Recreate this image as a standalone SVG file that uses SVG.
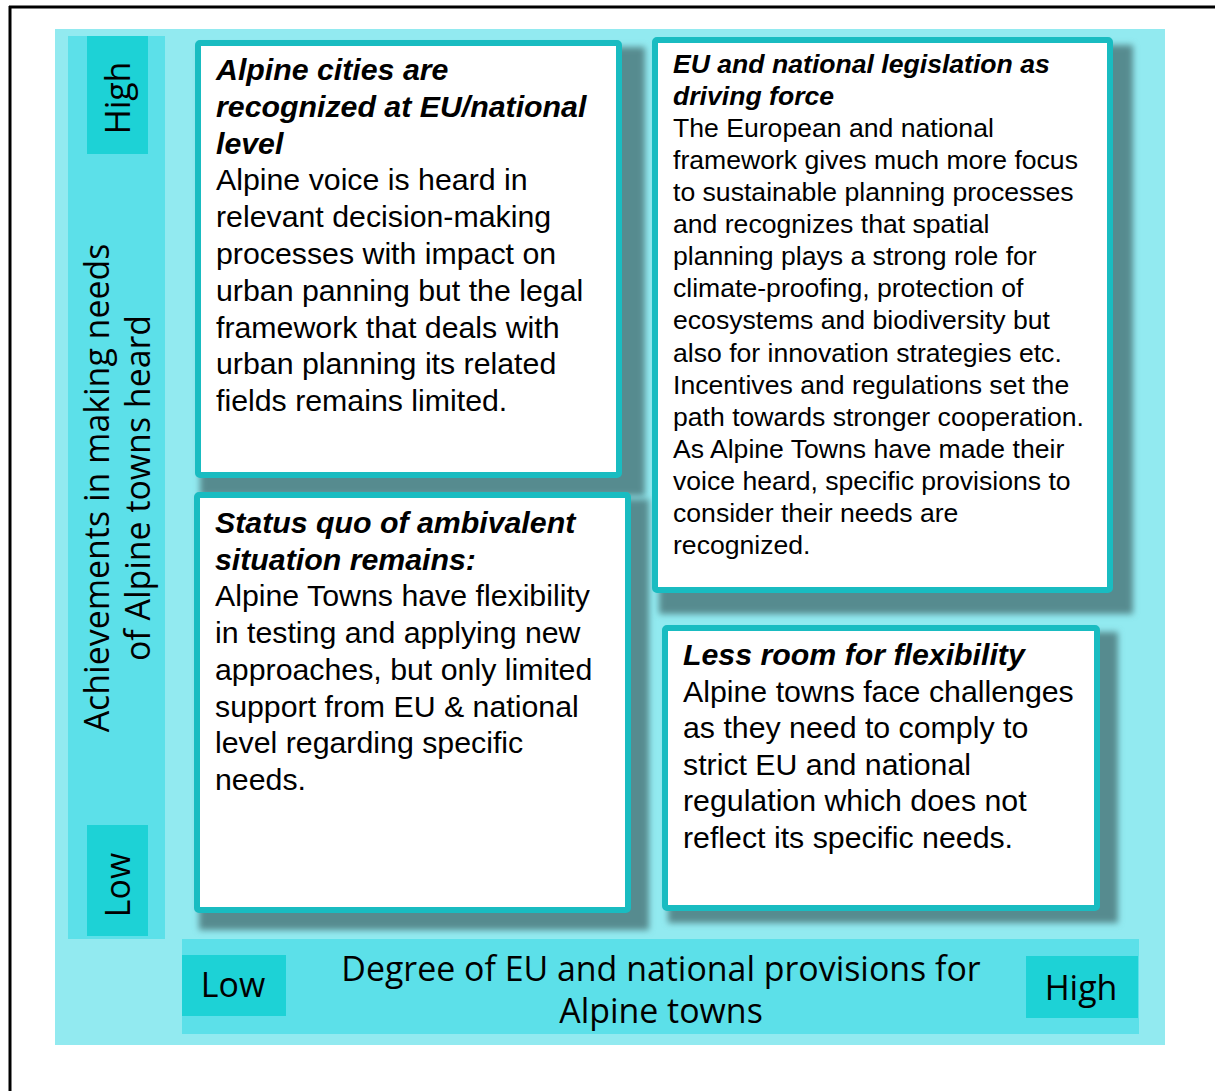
<svg xmlns="http://www.w3.org/2000/svg" width="1215" height="1091" viewBox="0 0 1215 1091">
<style>
.bg{fill:#92EAF0}
.bar{fill:#5CE0E9}
.lab{fill:#1DD2D6}
.box{fill:#ffffff;stroke:#19BCC1;stroke-width:6}
.sh{fill:#578B8F;filter:url(#blur)}
.ax{font-family:"Open Sans","Noto Sans",sans-serif;font-size:33.9px;fill:#000}
.t{font-family:"Liberation Sans",Arial,sans-serif;font-size:30.3px;fill:#000}
.t2{font-family:"Liberation Sans",Arial,sans-serif;font-size:26.6px;fill:#000}
.h{font-weight:bold;font-style:italic}
</style>
<defs>
<filter id="blur" x="-10%" y="-10%" width="120%" height="120%"><feGaussianBlur stdDeviation="3"/></filter>
</defs>
<rect width="1215" height="1091" fill="#ffffff"/>
<line x1="9" y1="7" x2="1215" y2="7" stroke="#000" stroke-width="3"/>
<line x1="10" y1="6" x2="10" y2="1091" stroke="#000" stroke-width="3"/>
<rect class="bg" x="55" y="29" width="1110" height="1016"/>
<g id="y-axis">
<rect class="bar" x="68" y="36" width="97" height="903"/>
<rect class="lab" x="87" y="36" width="61" height="118"/>
<rect class="lab" x="87" y="825" width="61" height="111"/>
<text class="ax" text-anchor="middle" transform="translate(130,98) rotate(-90)">High</text>
<text class="ax" text-anchor="middle" transform="translate(130,885) rotate(-90)">Low</text>
<text class="ax" text-anchor="middle" transform="translate(109,488) rotate(-90)"><tspan x="0" y="0">Achievements in making needs</tspan><tspan x="0" y="41">of Alpine towns heard</tspan></text>
</g>
<g id="x-axis">
<rect class="bar" x="182" y="939" width="957" height="95"/>
<rect class="lab" x="182" y="955" width="104" height="61"/>
<rect class="lab" x="1026" y="956" width="112" height="62"/>
<text class="ax" text-anchor="middle" x="233" y="997">Low</text>
<text class="ax" text-anchor="middle" x="1081" y="1000">High</text>
<text class="ax" text-anchor="middle" x="661" y="981"><tspan x="661" y="981">Degree of EU and national provisions for</tspan><tspan x="661" y="1023">Alpine towns</tspan></text>
</g>
<g id="shadows">
<rect class="sh" x="200" y="47" width="445" height="449"/>
<rect class="sh" x="659" y="45" width="474" height="569"/>
<rect class="sh" x="199" y="499" width="450" height="431"/>
<rect class="sh" x="668" y="632" width="450" height="291"/>
</g>
<g id="box-top-left">
<rect class="box" x="198" y="43" width="421" height="432" rx="2"/>
<text class="t"><tspan class="h" x="216" y="80">Alpine cities are</tspan><tspan class="h" x="216" y="116.8">recognized at EU/national</tspan><tspan class="h" x="216" y="153.6">level</tspan><tspan x="216" y="190.4">Alpine voice is heard in</tspan><tspan x="216" y="227.2">relevant decision-making</tspan><tspan x="216" y="264">processes with impact on</tspan><tspan x="216" y="300.8">urban panning but the legal</tspan><tspan x="216" y="337.6">framework that deals with</tspan><tspan x="216" y="374.4">urban planning its related</tspan><tspan x="216" y="411.2">fields remains limited.</tspan></text>
</g>
<g id="box-top-right">
<rect class="box" x="655" y="40" width="455" height="550" rx="2"/>
<text class="t2"><tspan class="h" x="673" y="72.5">EU and national legislation as</tspan><tspan class="h" x="673" y="104.5">driving force</tspan><tspan x="673" y="136.8">The European and national</tspan><tspan x="673" y="168.9">framework gives much more focus</tspan><tspan x="673" y="201">to sustainable planning processes</tspan><tspan x="673" y="233.1">and recognizes that spatial</tspan><tspan x="673" y="265.2">planning plays a strong role for</tspan><tspan x="673" y="297.3">climate-proofing, protection of</tspan><tspan x="673" y="329.4">ecosystems and biodiversity but</tspan><tspan x="673" y="361.5">also for innovation strategies etc.</tspan><tspan x="673" y="393.6">Incentives and regulations set the</tspan><tspan x="673" y="425.7">path towards stronger cooperation.</tspan><tspan x="673" y="457.8">As Alpine Towns have made their</tspan><tspan x="673" y="489.9">voice heard, specific provisions to</tspan><tspan x="673" y="522">consider their needs are</tspan><tspan x="673" y="554.1">recognized.</tspan></text>
</g>
<g id="box-bottom-left">
<rect class="box" x="197" y="495" width="431" height="415" rx="2"/>
<text class="t"><tspan class="h" x="215" y="533">Status quo of ambivalent</tspan><tspan class="h" x="215" y="569.7">situation remains:</tspan><tspan x="215" y="606.4">Alpine Towns have flexibility</tspan><tspan x="215" y="643.1">in testing and applying new</tspan><tspan x="215" y="679.8">approaches, but only limited</tspan><tspan x="215" y="716.5">support from EU &amp; national</tspan><tspan x="215" y="753.2">level regarding specific</tspan><tspan x="215" y="789.9">needs.</tspan></text>
</g>
<g id="box-bottom-right">
<rect class="box" x="665" y="628" width="432" height="280" rx="2"/>
<text class="t"><tspan class="h" x="683" y="665">Less room for flexibility</tspan><tspan x="683" y="701.6">Alpine towns face challenges</tspan><tspan x="683" y="738.2">as they need to comply to</tspan><tspan x="683" y="774.8">strict EU and national</tspan><tspan x="683" y="811.4">regulation which does not</tspan><tspan x="683" y="848">reflect its specific needs.</tspan></text>
</g>
<g id="connectors"/>
</svg>
